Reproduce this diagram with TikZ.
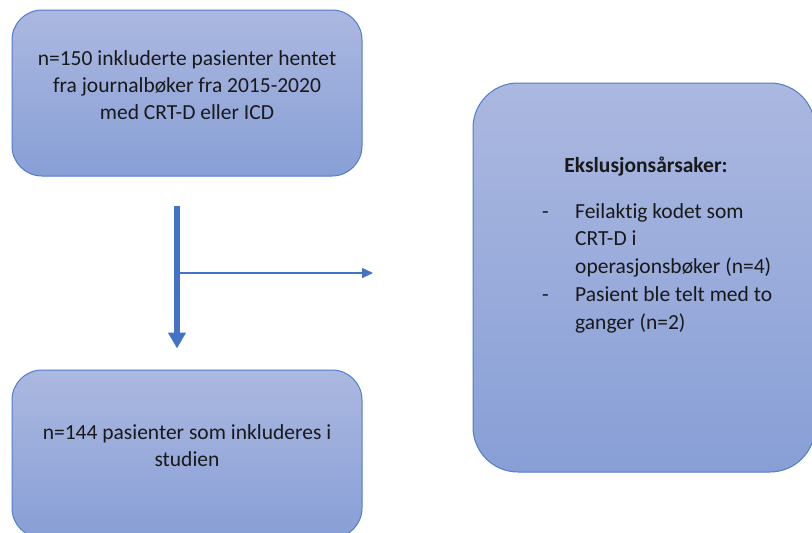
\documentclass[tikz,border=0pt]{standalone}
\usepackage{fontspec}
\setmainfont{Carlito}[Ligatures={NoCommon}]
\usetikzlibrary{arrows.meta}

\definecolor{boksram}{RGB}{80,125,200}
\definecolor{bokstopp}{RGB}{171,184,224}
\definecolor{boksbunn}{RGB}{136,159,214}
\definecolor{pilfarge}{RGB}{68,114,196}
\definecolor{skrift}{RGB}{25,25,25}

\begin{document}
\begin{tikzpicture}[x=1pt,y=-1pt,
    boks/.style={rectangle,draw=boksram,line width=1pt,top color=bokstopp,bottom color=boksbunn,inner sep=0pt},
    tekst/.style={font=\fontsize{21.5}{27}\selectfont,text=skrift,align=center,inner sep=0pt}]
    \useasboundingbox (0,0) rectangle (812,533);

    \node[boks,rounded corners=30pt,minimum width=350pt,minimum height=166pt] (inkl) at (187,93) {};
    \node[boks,rounded corners=30pt,minimum width=350pt,minimum height=168pt] (studie) at (187,454) {};
    \node[boks,rounded corners=45pt,minimum width=342pt,minimum height=389pt] (eksl) at (644,277.5) {};

    \node[tekst] (inkltekst) at (187,85) {n=150 inkluderte pasienter hentet\\fra journalbøker fra 2015-2020\\med CRT-D eller ICD};
    \node[tekst] (studietekst) at (187,446) {n=144 pasienter som inkluderes i\\studien};
    \node[tekst,font=\fontsize{21.5}{27}\selectfont\bfseries] (eksltittel) at (646,167) {Ekslusjonsårsaker:};
    \node[tekst,anchor=base west,font=\fontsize{21.5}{27.8}\selectfont] (eksliste) at (542,218)
    {\begin{tabular}[t]{@{}p{33pt}@{}l@{}}
        - & Feilaktig kodet som\\
          & CRT-D i\\
          & operasjonsbøker (n=4)\\
        - & Pasient ble telt med to\\
          & ganger (n=2)
    \end{tabular}};

    \coordinate (gren) at (177,273);
    \coordinate (grenslutt) at (373,273);
    \draw[pilfarge,line width=6.5pt,-{Triangle[width=17pt,length=16pt]}] ([xshift=-10pt,yshift=-29pt]inkl.south) -- ([xshift=-10pt,yshift=21pt]studie.north);
    \draw[pilfarge,line width=1.6pt,-{Triangle[width=10pt,length=11pt]}] (gren) -- (grenslutt);
\end{tikzpicture}
\end{document}
